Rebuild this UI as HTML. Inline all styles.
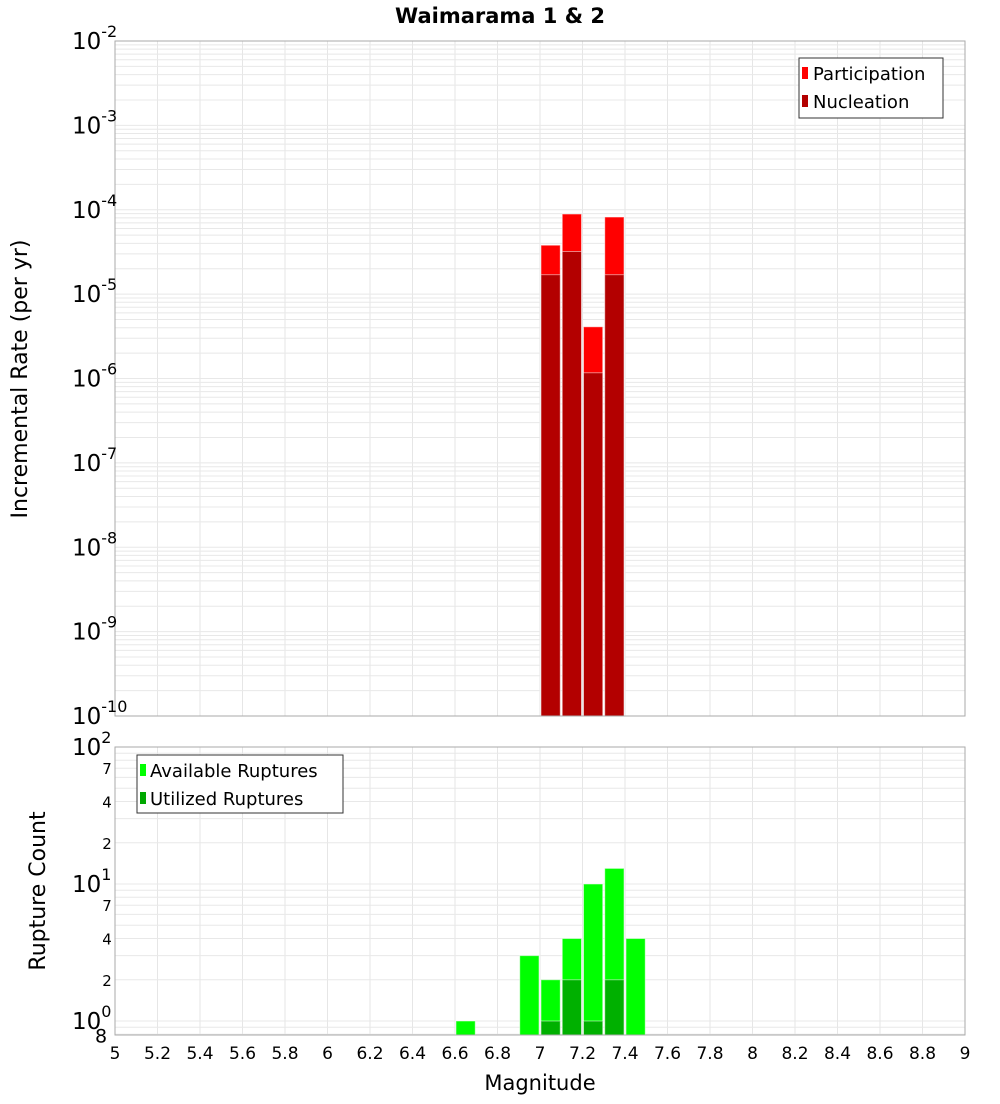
<!DOCTYPE html>
<html><head><meta charset="utf-8"><style>
body{margin:0;background:#fff;font-family:"DejaVu Sans","Liberation Sans",sans-serif}
svg text{font-family:"DejaVu Sans","Liberation Sans",sans-serif}
</style></head><body>
<svg id="c" width="1000" height="1100" xmlns="http://www.w3.org/2000/svg">
<text x="500" y="23" text-anchor="middle" font-size="21" font-weight="bold">Waimarama 1 &amp; 2</text>
<text transform="translate(27,379) rotate(-90)" text-anchor="middle" font-size="22">Incremental Rate (per yr)</text>
<text transform="translate(45,891) rotate(-90)" text-anchor="middle" font-size="22">Rupture Count</text>
<text x="540" y="1090" text-anchor="middle" font-size="21">Magnitude</text>
<g id="grid"></g><g id="bars"></g><g id="axes"></g>
<g>
<rect x="799" y="58" width="144" height="60" fill="#fff" stroke="#333"/>
<rect x="802" y="67" width="6" height="12" fill="#ff0000"/><text x="813" y="80" font-size="18">Participation</text>
<rect x="802" y="95" width="6" height="12" fill="#b30000"/><text x="813" y="108" font-size="18">Nucleation</text>
</g>
<g>
<rect x="137" y="755" width="206" height="58" fill="#fff" stroke="#333"/>
<rect x="140" y="764" width="6" height="12" fill="#00ff00"/><text x="150" y="777" font-size="18">Available Ruptures</text>
<rect x="140" y="792" width="6" height="12" fill="#00a800"/><text x="150" y="805" font-size="18">Utilized Ruptures</text>
</g>
</svg>
<script>
const mags=[7.05,7.15,7.25,7.35];
const participation=[3.8e-5,8.9e-5,4.1e-6,8.2e-5];
const nucleation=[1.7e-5,3.2e-5,1.17e-6,1.7e-5];
const cntMags=[6.65,6.95,7.05,7.15,7.25,7.35,7.45];
const available=[1,3,2,4,10,13,4];
const utilMags=[7.05,7.15,7.25,7.35];
const utilized=[1,2,1,2];
const xTicks=[5,5.2,5.4,5.6,5.8,6,6.2,6.4,6.6,6.8,7,7.2,7.4,7.6,7.8,8,8.2,8.4,8.6,8.8,9];
const topExps=[-2,-3,-4,-5,-6,-7,-8,-9,-10];

const NS="http://www.w3.org/2000/svg";
const X0=115,X1=965,T0=41,T1=716,B0=747,B1=1035;
const x=m=>X0+(m-5)/4*(X1-X0);
const yt=v=>T0+(-2-Math.log10(v))*(T1-T0)/8;
const BD=137, yb=v=>B0+(2-Math.log10(v))*BD;
function el(p,t,a){const e=document.createElementNS(NS,t);for(const k in a)e.setAttribute(k,a[k]);p.appendChild(e);return e;}
const G=document.getElementById('grid'),B=document.getElementById('bars'),A=document.getElementById('axes');
// grids
for(const [y0,y1] of [[T0,T1],[B0,B1]]){
  for(const t of xTicks){const g=el(G,'line',{x1:x(t),x2:x(t),y1:y0,y2:y1,stroke:'#e6e6e6'});
  
  }
}
for(let e=-10;e<-2;e++)for(let k=1;k<10;k++){const y=yt(k*Math.pow(10,e));
  const g=el(G,'line',{x1:X0,x2:X1,y1:y,y2:y,stroke:'#e8e8e8'});
  
  }
for(let e=-1;e<2;e++)for(let k=1;k<10;k++){const v=k*Math.pow(10,e);const y=yb(v);if(y>B1||y<B0)continue;
  const g=el(G,'line',{x1:X0,x2:X1,y1:y,y2:y,stroke:'#e8e8e8'});
  
  }
// bars
function bar(m,v,col,yf,base,name){const xl=x(m-0.05)+1,xr=x(m+0.05)-1;const y=yf(v);
  const r=el(B,'rect',{x:xl,y:y,width:xr-xl,height:base-y,fill:col,stroke:'#fff','stroke-opacity':0.5});
  
  }
mags.forEach((m,i)=>bar(m,participation[i],'#ff0000',yt,T1,'participation-bar'));
mags.forEach((m,i)=>bar(m,nucleation[i],'#b30000',yt,T1,'nucleation-bar'));
cntMags.forEach((m,i)=>bar(m,available[i],'#00ff00',yb,B1,'available-bar'));
utilMags.forEach((m,i)=>bar(m,utilized[i],'#00b000',yb,B1,'utilized-bar'));
// frames
el(A,'rect',{x:X0,y:T0,width:X1-X0,height:T1-T0,fill:'none',stroke:'#aaa'});
el(A,'rect',{x:X0,y:B0,width:X1-X0,height:B1-B0,fill:'none',stroke:'#aaa'});
// x labels
xTicks.forEach(t=>{const tx=el(A,'text',{x:x(t),y:1059,'text-anchor':'middle','font-size':17});tx.textContent=String(t);
  
  });
// top y labels
topExps.forEach(e=>{const y=yt(Math.pow(10,e));const tx=el(A,'text',{x:72,y:y+8,'font-size':23});
  tx.innerHTML='10<tspan dy="-12" font-size="16">'+e+'</tspan>';
  
  });
// bottom y labels
[[100,'2'],[10,'1'],[1,'0']].forEach(([v,e])=>{const y=yb(v);const tx=el(A,'text',{x:72,y:y+8,'font-size':23});
  tx.innerHTML='10<tspan dy="-12" font-size="16">'+e+'</tspan>';
  
  });
[70,40,20,7,4,2,0.8].forEach(v=>{const y=yb(v);const lab=v<1?'8':String(v<10?v:v/10);
  const tx=el(A,'text',{x:v<1?101:107,y:y+(v<1?8:6),'text-anchor':'middle','font-size':v<1?19:15});tx.textContent=lab;
  
  });
</script>
</body></html>
